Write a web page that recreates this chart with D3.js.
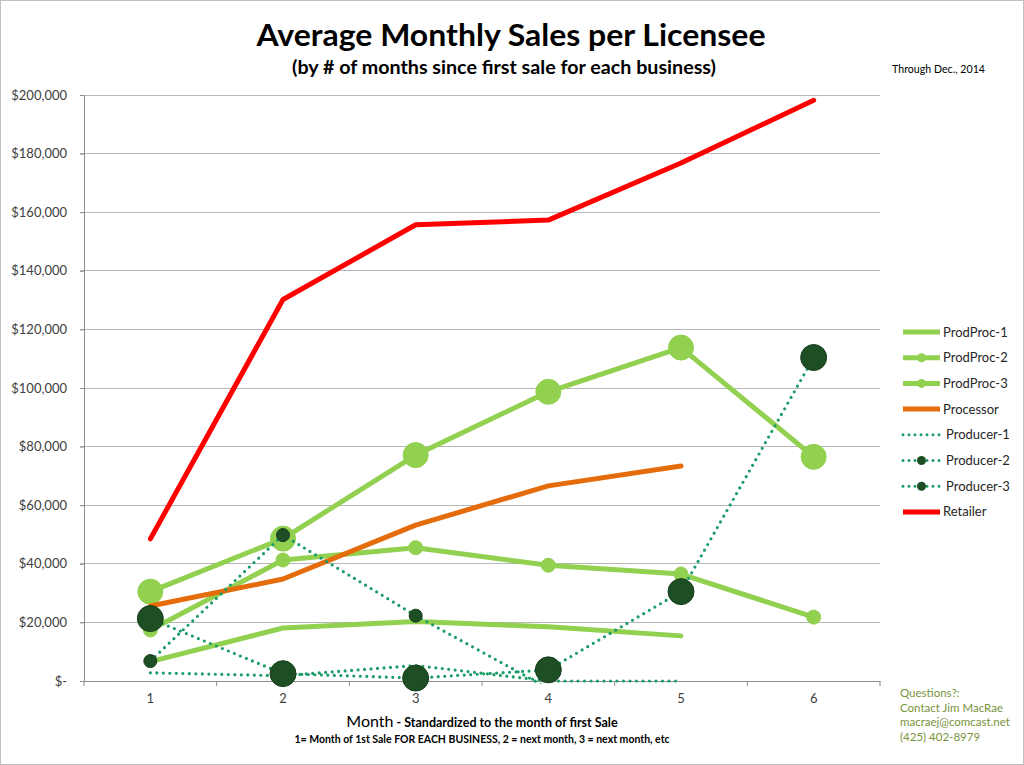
<!DOCTYPE html>
<html><head><meta charset="utf-8">
<script src="https://cdnjs.cloudflare.com/ajax/libs/d3/7.8.5/d3.min.js"></script>
<style>body{margin:0;background:#fff}svg{display:block}text{font-family:Lato,"Open Sans",sans-serif}</style>
</head><body>
<script>
const months = [1, 2, 3, 4, 5, 6];
const yTicks = [0, 20000, 40000, 60000, 80000, 100000, 120000, 140000, 160000, 180000, 200000];
const prodProc1 = [6600, 18100, 20300, 18500, 15400, null];
const prodProc2 = [17400, 41300, 45500, 39500, 36500, 21800];
const prodProc3 = [30500, 48600, 77100, 98700, 113800, 76500];
const processor = [25600, 34800, 53200, 66600, 73400, null];
const producer1 = [2800, 1800, 5300, 0, 0, null];
const producer2 = [6800, 49800, 22300, -2500, null, null];
const producer3 = [21300, 2500, 1000, 3800, 30500, 110400];
const retailer = [48500, 130200, 155700, 157300, 176800, 198200];
const seriesNames = ["ProdProc-1","ProdProc-2","ProdProc-3","Processor","Producer-1","Producer-2","Producer-3","Retailer"];
const contactLines = ["Questions?:", "Contact Jim MacRae", "macraej@comcast.net", "(425) 402-8979"];

const LG = "#92d050", OR = "#e46c0a", RD = "#ff0000", TL = "#1c9c68", DK = "#1e4f24";
const styles = [
  {data: prodProc1, color: LG, w: 5, dash: null, r: 0, mfill: LG},
  {data: prodProc2, color: LG, w: 5, dash: null, r: 7, mfill: LG},
  {data: prodProc3, color: LG, w: 5, dash: null, r: 12.5, mfill: LG},
  {data: processor, color: OR, w: 5, dash: null, r: 0},
  {data: producer1, color: TL, w: 3.2, dash: "0 6.5", r: 0, mfill: DK},
  {data: producer2, color: TL, w: 3.2, dash: "0 6.5", r: 6.5, mfill: DK},
  {data: producer3, color: TL, w: 3.2, dash: "0 6.5", r: 13, mfill: DK},
  {data: retailer, color: RD, w: 5, dash: null, r: 0}
];

const W = 1024, H = 765;
const svg = d3.select("body").append("svg").attr("width", W).attr("height", H);
svg.append("rect").attr("x",0.5).attr("y",0.5).attr("width",W-1).attr("height",H-1).attr("fill","#fff").attr("stroke","#bfbfbf");

const L = 84, R = 880, T = 95, B = 681;
const x = d3.scaleBand().domain(months).range([L, R]).padding(0);
const cx = m => x(m) + x.bandwidth()/2;
const y = d3.scaleLinear().domain([0, 200000]).range([B, T]);

// gridlines
svg.append("g").selectAll("line").data(yTicks.filter(d=>d>0)).join("line")
  .attr("x1", L-4).attr("x2", R).attr("y1", d=>y(d)).attr("y2", d=>y(d))
  .attr("stroke", "#b7b7b7").attr("stroke-width", 1).attr("shape-rendering","crispEdges");

// y axis
const yAxis = d3.axisLeft(y).tickValues(yTicks).tickSize(4).tickPadding(13)
  .tickFormat(d => d === 0 ? "$-" : "$" + d3.format(",")(d));
const gy = svg.append("g").attr("transform", `translate(${L},0)`).call(yAxis);
gy.select(".domain").attr("stroke", "#8c8c8c");
gy.selectAll(".tick line").attr("stroke", "#8c8c8c");
gy.selectAll("text").attr("font-size", 13).attr("fill", "#404040").attr("font-family","Lato");

// x axis
const xAxis = d3.axisBottom(x).tickSize(0).tickPadding(13);
const gx = svg.append("g").attr("transform", `translate(0,${B})`).call(xAxis);
gx.select(".domain").attr("stroke", "#8c8c8c");
gx.selectAll("text").attr("font-size", 13).attr("fill", "#404040").attr("font-family","Lato");
gx.append("g").selectAll("line").data(months.concat([7])).join("line")
  .attr("x1", (d,i)=> i<6 ? x(d) : R).attr("x2", (d,i)=> i<6 ? x(d) : R)
  .attr("y1", 0).attr("y2", 5).attr("stroke", "#8c8c8c");

// clip
svg.append("defs").append("clipPath").attr("id","plotclip").append("rect")
  .attr("x", L).attr("y", T-20).attr("width", R-L+20).attr("height", B - T + 22.5);

const plot = svg.append("g");
const line = d3.line().defined(d => d.v !== null).x(d => cx(d.m)).y(d => y(d.v));

styles.forEach((s, i) => {
  const pts = months.map((m, j) => ({m, v: s.data[j]}));
  plot.append("path").datum(pts).attr("d", line).attr("fill","none")
    .attr("stroke", s.color).attr("stroke-width", s.w)
    .attr("stroke-linecap", "round").attr("stroke-linejoin","round")
    .attr("stroke-dasharray", s.dash).attr("clip-path","url(#plotclip)");
  if (s.r > 0) {
    plot.append("g").selectAll("circle").data(pts.filter(d => d.v !== null && d.v >= 0)).join("circle")
      .attr("cx", d => cx(d.m)).attr("cy", d => y(d.v)).attr("r", s.r)
      .attr("fill", s.mfill).attr("stroke", s.mfill === DK ? "#173d1b" : LG).attr("stroke-width", 1);
  }
});

// legend
const lg = svg.append("g");
const lgY0 = 332, lgDy = 25.7;
seriesNames.forEach((n, i) => {
  const s = styles[i];
  const yy = lgY0 + i*lgDy;
  lg.append("line").attr("x1", 903).attr("x2", 940).attr("y1", yy).attr("y2", yy)
    .attr("stroke", s.color).attr("stroke-width", s.dash ? 3 : 5)
    .attr("stroke-linecap", s.dash ? "round" : "butt").attr("stroke-dasharray", s.dash ? "0 6" : null);
  if (s.r > 0) lg.append("circle").attr("cx", 921.5).attr("cy", yy).attr("r", 4.5).attr("fill", s.mfill);
  lg.append("text").attr("x", s.dash ? 946 : 943).attr("y", yy + 4.5).attr("font-size", 13).attr("fill", "#262626").text(n);
});

// titles
svg.append("text").attr("x", 511).attr("y", 46).attr("text-anchor","middle")
  .attr("font-size", 31).attr("font-weight", "bold").attr("fill","#000")
  .attr("textLength", 509).attr("lengthAdjust","spacingAndGlyphs").text("Average Monthly Sales per Licensee");
svg.append("text").attr("x", 504).attr("y", 74).attr("text-anchor","middle")
  .attr("font-size", 18).attr("font-weight", "bold").attr("fill","#000")
  .attr("textLength", 424).attr("lengthAdjust","spacingAndGlyphs").text("(by # of months since first sale for each business)");
svg.append("text").attr("x", 892).attr("y", 73).attr("font-size", 11).attr("fill","#000")
  .attr("textLength", 93).attr("lengthAdjust","spacingAndGlyphs").text("Through Dec., 2014");

// x title
const xt = svg.append("text").attr("x", 482).attr("y", 727).attr("text-anchor","middle").attr("fill","#000").attr("font-weight","bold");
xt.append("tspan").attr("font-size", 16).attr("font-weight","normal").text("Month");
xt.append("tspan").attr("font-size", 12.5).text(" - Standardized to the month of first Sale");
svg.append("text").attr("x", 482).attr("y", 743).attr("text-anchor","middle").attr("fill","#000")
  .attr("font-size", 10.5).attr("font-weight","bold")
  .text("1= Month of 1st Sale FOR EACH BUSINESS, 2 = next month, 3 = next month, etc");

// contact
svg.append("g").selectAll("text").data(contactLines).join("text")
  .attr("x", 900).attr("y", (d,i) => 697 + i*14.5).attr("font-size", 11.5).attr("fill", "#77933c").text(d => d);
</script>
</body></html>
